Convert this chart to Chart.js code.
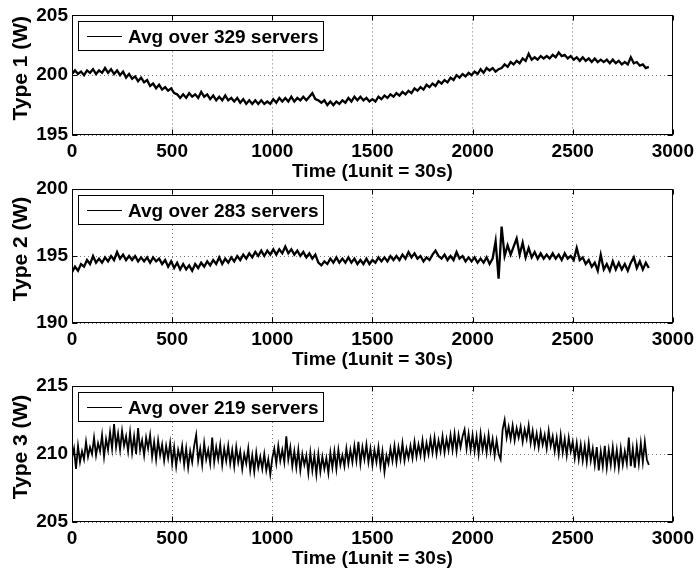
<!DOCTYPE html>
<html>
<head>
<meta charset="utf-8">
<script src="https://cdn.jsdelivr.net/npm/chart.js@4.4.1/dist/chart.umd.min.js"></script>
<style>
  html, body { margin: 0; padding: 0; background: #fff; }
  #wrap { position: relative; width: 699px; height: 573px; overflow: hidden; }
  #wrap canvas { position: absolute; left: 0; }
</style>
</head>
<body>
<div id="wrap">
  <canvas id="plot1" width="699" height="185" style="top:0px"></canvas>
  <canvas id="plot2" width="699" height="210" style="top:163px"></canvas>
  <canvas id="plot3" width="699" height="212" style="top:360px"></canvas>
</div>
<script>
// sampling interval of each series, in time units (1 unit = 30 s)
const sampleStep = [15, 15, 10];

const type1 = [
  200.1, 200.4, 200.1, 200.3, 200.0, 200.4, 200.2, 200.5, 200.1, 200.4,
  200.2, 200.6, 200.2, 200.5, 200.1, 200.4, 200.0, 200.3, 199.8, 200.1,
  199.7, 199.9, 199.5, 199.8, 199.4, 199.6, 199.1, 199.3, 198.9, 199.2,
  198.8, 199.0, 198.7, 198.9, 198.5, 198.4, 198.1, 198.4, 198.1, 198.5,
  198.2, 198.4, 198.1, 198.6, 198.2, 198.4, 198.0, 198.3, 197.9, 198.2,
  197.9, 198.3, 197.9, 198.1, 197.8, 198.1, 197.7, 198.0, 197.6, 197.9,
  197.6, 197.9, 197.6, 197.9, 197.6, 197.8, 197.6, 198.0, 197.7, 198.1,
  197.8, 198.1, 197.8, 198.2, 197.8, 198.1, 197.9, 198.2, 197.9, 198.2,
  198.5, 198.0, 197.9, 197.7, 197.9, 197.5, 197.8, 197.5, 197.8, 197.6,
  197.9, 197.7, 198.1, 197.8, 198.2, 197.9, 198.2, 197.9, 198.1, 197.8,
  198.0, 197.8, 198.2, 198.0, 198.3, 198.1, 198.4, 198.2, 198.5, 198.3,
  198.6, 198.4, 198.7, 198.5, 198.9, 198.7, 199.0, 198.8, 199.2, 199.0,
  199.3, 199.1, 199.5, 199.3, 199.6, 199.4, 199.8, 199.6, 200.0, 199.8,
  200.1, 199.9, 200.2, 200.0, 200.3, 200.1, 200.5, 200.2, 200.6, 200.4,
  200.6, 200.3, 200.5, 200.6, 200.9, 200.7, 201.1, 200.9, 201.2, 201.0,
  201.4, 201.2, 201.8, 201.3, 201.5, 201.3, 201.6, 201.4, 201.6, 201.4,
  201.7, 201.5, 201.9, 201.6, 201.7, 201.4, 201.6, 201.3, 201.5, 201.2,
  201.5, 201.2, 201.4, 201.1, 201.4, 201.1, 201.3, 201.1, 201.3, 201.0,
  201.3, 201.0, 201.2, 200.9, 201.1, 200.9, 201.5, 201.0, 201.1, 200.8,
  200.9, 200.6, 200.7
];

const type2 = [
  193.8, 194.2, 193.9, 194.4, 194.2, 194.7, 194.4, 195.0, 194.5, 194.8,
  194.5, 194.9, 194.6, 195.0, 194.7, 195.3, 194.8, 195.1, 194.7, 195.0,
  194.7, 195.0, 194.6, 194.9, 194.6, 194.9, 194.5, 194.9, 194.6, 194.8,
  194.4, 194.7, 194.2, 194.6, 194.1, 194.5, 194.0, 194.4, 194.0, 194.3,
  193.9, 194.4, 194.1, 194.5, 194.2, 194.6, 194.3, 194.7, 194.4, 194.9,
  194.4, 194.8, 194.5, 194.9, 194.6, 195.0, 194.7, 195.1, 194.8, 195.2,
  194.9, 195.3, 195.0, 195.4, 195.0, 195.4, 195.1, 195.5, 195.1, 195.5,
  195.2, 195.7, 195.2, 195.5, 195.1, 195.4, 195.0, 195.3, 194.9, 195.2,
  194.8, 195.1, 194.5, 194.3, 194.6, 194.4, 194.8, 194.5, 194.9, 194.5,
  194.8, 194.5, 194.9, 194.5, 194.8, 194.4, 194.7, 194.4, 194.8, 194.4,
  194.7, 194.5, 194.9, 194.6, 194.9, 194.6, 195.0, 194.7, 195.0, 194.7,
  195.1, 194.8, 195.3, 194.9, 195.2, 194.8, 195.0, 194.6, 194.9, 194.7,
  195.1, 195.4, 195.0, 194.8, 195.1, 194.7, 195.0, 194.7, 195.3, 194.8,
  195.0, 194.6, 194.9, 194.6, 194.9, 194.5, 194.8, 194.5, 194.9, 194.4,
  194.8, 196.1, 193.3, 197.2, 195.0, 195.8, 195.1, 195.7, 196.3, 195.1,
  196.0, 194.9, 195.6, 194.9, 195.3, 194.8, 195.2, 194.8, 195.1, 194.8,
  195.2, 194.8, 195.1, 194.7, 195.2, 194.8, 195.0, 194.7, 195.6, 194.7,
  194.9, 194.4, 194.7, 194.2, 194.5, 193.9, 195.1, 194.0, 194.4, 193.9,
  194.6, 194.0, 194.5, 194.0, 194.4, 193.9, 194.5, 194.9, 194.1, 194.6,
  194.0, 194.5, 194.1
];

const type3 = [
  209.7, 210.4, 208.9, 210.6, 209.4, 210.2, 209.6, 210.9, 209.8, 210.5,
  210.0, 211.2, 209.9, 210.8, 210.2, 211.4, 209.8, 211.1, 210.3, 211.6,
  210.4, 212.2, 210.5, 211.5, 210.3, 211.7, 210.6, 211.3, 210.2, 211.6,
  210.1, 211.3, 210.0, 211.9, 210.3, 211.0, 209.9, 211.2, 210.4, 211.4,
  209.8, 210.9, 209.6, 211.0, 209.9, 210.7, 209.5, 210.6, 209.7, 210.8,
  209.3, 210.5, 209.1, 210.3, 209.6, 210.6, 209.2, 210.4, 209.0, 210.2,
  209.4, 210.6, 211.4, 209.5, 210.4, 209.2, 210.8, 209.6, 210.3, 209.3,
  211.2, 209.4, 210.5, 209.6, 210.7, 209.2, 210.4, 209.5, 210.6, 209.3,
  210.3, 209.1, 210.5, 209.4, 210.2, 208.9, 210.0, 209.3, 210.4, 208.8,
  209.9, 208.7, 210.1, 209.0, 209.8, 208.9, 210.0, 208.8, 209.6, 208.5,
  209.7, 210.4, 209.3, 210.6, 209.5, 210.3, 209.4, 211.3, 209.6, 210.5,
  209.1, 210.2, 209.0, 210.3, 208.8, 210.0, 209.2, 209.9, 208.6, 210.1,
  208.8, 209.9, 208.5, 210.0, 208.7, 209.8, 208.9, 209.7, 208.6, 210.1,
  209.0, 210.2, 208.9, 210.3, 209.2, 209.9, 209.1, 210.4, 209.3, 210.3,
  209.4, 210.6, 209.5, 210.9, 209.3, 210.5, 209.6, 210.7, 209.4, 210.4,
  209.2, 210.3, 209.4, 210.5, 209.1, 210.2, 208.7, 209.9, 209.3, 210.4,
  209.5, 210.6, 209.4, 210.5, 209.6, 210.8, 209.5, 210.4, 209.7, 210.6,
  209.7, 210.9, 209.8, 210.7, 209.9, 211.0, 209.8, 210.8, 210.0, 211.1,
  210.1, 211.2, 210.0, 211.0, 210.2, 211.3, 210.1, 211.1, 210.3, 211.4,
  210.3, 211.5, 210.2, 211.4, 210.5, 211.3, 211.8, 210.4, 211.5, 210.3,
  211.4, 210.2, 211.3, 210.0, 211.5, 210.3, 211.2, 210.1, 211.4, 210.2,
  211.1, 209.9, 211.0, 210.0, 209.6, 211.8, 212.5, 211.2, 212.0, 211.1,
  212.1, 211.0, 211.9, 211.2, 212.0, 210.9, 211.8, 211.1, 212.1, 210.8,
  211.7, 210.6, 211.5, 210.5, 211.6, 210.7, 211.4, 210.4, 211.7, 210.6,
  211.3, 210.2, 211.2, 210.0, 211.4, 210.1, 211.1, 209.9, 211.2, 210.2,
  210.9, 209.7, 210.8, 209.6, 210.7, 209.5, 210.6, 209.4, 210.8, 209.5,
  210.4, 209.2, 210.5, 208.8, 210.2, 209.1, 210.6, 209.0, 210.3, 209.2,
  210.5, 209.1, 210.3, 209.0, 210.4, 209.2, 210.2, 209.3, 211.2, 209.1,
  210.4, 209.0, 210.6, 209.3, 210.8, 209.4, 210.9, 209.6, 209.2
];

const seriesNames = ['Avg over 329 servers', 'Avg over 283 servers', 'Avg over 219 servers'];
const yTitles = ['Type 1 (W)', 'Type 2 (W)', 'Type 3 (W)'];
const yMin = [195, 190, 205];
const yMax = [205, 200, 215];
const lineWidths = [2.3, 2.3, 1.8];
const xTitle = 'Time (1unit = 30s)';
const xMax = 3000;

const FONT = '"Liberation Sans", Arial, Helvetica, sans-serif';
const boldFont = { family: FONT, size: 19, weight: 'bold' };

// axes box, inward ticks, legend and y label
const frame = {
  id: 'frame',
  afterDraw(chart, args, opts) {
    const { ctx, chartArea: a, scales: { x, y } } = chart;
    const L = Math.round(a.left) + 0.5, R = Math.round(a.right) - 0.5;
    const T = Math.round(a.top) + 0.5, B = Math.round(a.bottom) - 0.5;
    ctx.save();
    ctx.strokeStyle = '#000';
    ctx.lineWidth = 1;
    ctx.beginPath();
    x.ticks.forEach(t => {
      const px = Math.round(x.getPixelForValue(t.value)) + 0.5;
      ctx.moveTo(px, B); ctx.lineTo(px, B - 5);
      ctx.moveTo(px, T); ctx.lineTo(px, T + 5);
    });
    y.ticks.forEach(t => {
      const py = Math.round(y.getPixelForValue(t.value)) + 0.5;
      ctx.moveTo(L, py); ctx.lineTo(L + 5, py);
      ctx.moveTo(R, py); ctx.lineTo(R - 5, py);
    });
    ctx.stroke();
    ctx.strokeRect(L, T, R - L, B - T);

    // legend box
    const lx = 78.5, ly = T + 6, lw = 245, lh = 29;
    ctx.fillStyle = '#fff';
    ctx.fillRect(lx, ly, lw, lh);
    ctx.strokeRect(lx, ly, lw, lh);
    const cy = Math.round(ly + lh / 2) + 0.5;
    ctx.beginPath();
    ctx.moveTo(87, cy); ctx.lineTo(122, cy);
    ctx.stroke();
    ctx.fillStyle = '#000';
    ctx.font = 'bold 19px ' + FONT;
    ctx.textBaseline = 'middle';
    ctx.textAlign = 'left';
    ctx.fillText(opts.name, 128, cy + 1);

    // y axis title
    ctx.font = 'bold 21px ' + FONT;
    ctx.translate(21, (a.top + a.bottom) / 2 - 7);
    ctx.rotate(-Math.PI / 2);
    ctx.textAlign = 'center';
    ctx.fillText(opts.yTitle, 0, 0);
    ctx.restore();
  }
};

function makePlot(id, values, i, padTop) {
  const points = values.map((v, k) => ({ x: k * sampleStep[i], y: v }));
  return new Chart(document.getElementById(id), {
    type: 'line',
    data: {
      datasets: [{
        label: seriesNames[i],
        data: points,
        borderColor: '#000',
        borderWidth: lineWidths[i],
        pointRadius: 0,
        tension: 0
      }]
    },
    options: {
      responsive: false,
      animation: false,
      events: [],
      layout: { padding: { top: padTop, right: 23, left: 0, bottom: 0 } },
      plugins: {
        legend: { display: false },
        tooltip: { enabled: false },
        frame: { name: seriesNames[i], yTitle: yTitles[i] }
      },
      scales: {
        x: {
          type: 'linear',
          min: 0,
          max: xMax,
          ticks: { stepSize: 500, color: '#000', font: boldFont, padding: 5, maxRotation: 0, autoSkip: false,
                   callback: v => String(v) },
          grid: { color: '#777', drawTicks: false },
          border: { display: false, dash: [1, 3] },
          title: { display: true, text: xTitle, color: '#000', font: boldFont, padding: { top: 0, bottom: 2 } },
          afterFit(s) { s.height = 50; }
        },
        y: {
          min: yMin[i],
          max: yMax[i],
          ticks: { stepSize: 5, color: '#000', font: boldFont, padding: 4, callback: v => String(v) },
          grid: { color: '#777', drawTicks: false },
          border: { display: false, dash: [1, 3] },
          afterFit(s) { s.width = 72; }
        }
      }
    },
    plugins: [frame]
  });
}

makePlot('plot1', type1, 0, 13);
makePlot('plot2', type2, 1, 26);
makePlot('plot3', type3, 2, 26);
</script>
</body>
</html>
